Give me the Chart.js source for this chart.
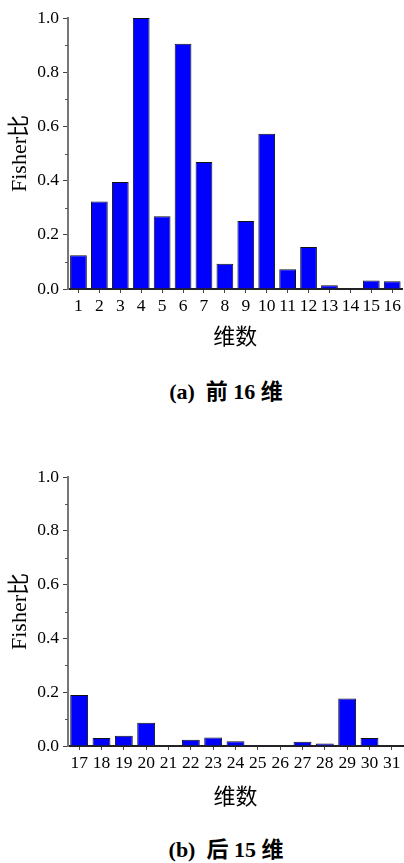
<!DOCTYPE html>
<html>
<head>
<meta charset="utf-8">
<script src="https://cdn.jsdelivr.net/npm/chart.js@4"></script>
<style>
  body { margin: 0; background: #fff; }
  #wrap { position: relative; width: 404px; height: 863px; overflow: hidden; }
  .box { position: absolute; left: 0; width: 404px; height: 360px; }
  .cap {
    position: absolute; white-space: pre; transform: translate(-50%, -50%);
    font: bold 22px "Liberation Serif", "Noto Sans CJK SC", serif; color: #000;
    line-height: 24px;
  }
</style>
</head>
<body>
<div id="wrap">
  <div class="box" style="top:0"><canvas id="grafA"></canvas></div>
  <div class="cap" style="left:226px; top:392px">(a)  前 16 维</div>
  <div class="box" style="top:459px"><canvas id="grafB"></canvas></div>
  <div class="cap" style="left:226px; top:850px">(b)  后 15 维</div>
</div>
<script>
// datos de las dos gráficas
const dimsA = ['1','2','3','4','5','6','7','8','9','10','11','12','13','14','15','16'];
const fisherA = [0.125, 0.323, 0.395, 1.0, 0.268, 0.905, 0.469, 0.093, 0.251, 0.573, 0.073, 0.155, 0.014, 0.002, 0.031, 0.029];

const dimsB = ['17','18','19','20','21','22','23','24','25','26','27','28','29','30','31'];
const fisherB = [0.19, 0.030, 0.038, 0.086, 0, 0.023, 0.032, 0.018, 0.003, 0.002, 0.016, 0.009, 0.177, 0.030, 0.002];

const yTicks = [0, 0.2, 0.4, 0.6, 0.8, 1.0];
const yMinor = [0.1, 0.3, 0.5, 0.7, 0.9];

const serif = '"Liberation Serif", "Noto Sans CJK SC", serif';

// ticks menores del eje y
const minorTicks = {
  id: 'minorTicks',
  afterDraw(chart) {
    const y = chart.scales.y;
    const ctx = chart.ctx;
    ctx.save();
    ctx.strokeStyle = '#555';
    ctx.lineWidth = 1;
    yMinor.forEach(v => {
      const py = Math.round(y.getPixelForValue(v)) + 0.5;
      ctx.beginPath();
      ctx.moveTo(chart.chartArea.left - 3, py);
      ctx.lineTo(chart.chartArea.left, py);
      ctx.stroke();
    });
    ctx.restore();
  }
};

function crearGrafico(id, etiquetas, valores, altoX, padTitulo) {
  new Chart(document.getElementById(id), {
    type: 'bar',
    data: {
      labels: etiquetas,
      datasets: [{
        data: valores,
        backgroundColor: '#0000ff',
        borderColor: '#111',
        borderWidth: 1,
        barPercentage: 0.8,
        categoryPercentage: 1.0
      }]
    },
    options: {
      responsive: true,
      maintainAspectRatio: false,
      animation: false,
      layout: { padding: { top: 18, right: 1, left: 0, bottom: 0 } },
      plugins: {
        legend: { display: false },
        tooltip: { enabled: false }
      },
      scales: {
        x: {
          afterFit: s => { s.height = altoX; },
          grid: { drawOnChartArea: false, drawTicks: true, offset: false, tickLength: 4, color: '#444' },
          border: { display: true, color: '#222', width: 2 },
          ticks: {
            color: '#000', font: { family: serif, size: 17.5 },
            padding: 3, autoSkip: false, maxRotation: 0
          },
          title: {
            display: true, text: '维数', color: '#000',
            font: { family: serif, size: 22 }, padding: { top: 0, bottom: padTitulo }
          }
        },
        y: {
          min: 0, max: 1,
          afterFit: s => { s.width = 68; },
          afterBuildTicks: s => { s.ticks = yTicks.map(v => ({ value: v })); },
          grid: { drawOnChartArea: false, drawTicks: true, tickLength: 5, color: '#444' },
          border: { display: true, color: '#777', width: 2 },
          ticks: {
            color: '#000', font: { family: serif, size: 17.5 }, padding: 4,
            callback: v => Number(v).toFixed(1)
          },
          title: {
            display: true, text: 'Fisher比', color: '#000',
            font: { family: serif, size: 22 }, padding: { top: 7, bottom: 0 }
          }
        }
      }
    },
    plugins: [minorTicks]
  });
}

crearGrafico('grafA', dimsA, fisherA, 71, 9);
crearGrafico('grafB', dimsB, fisherB, 73, 8);
</script>
</body>
</html>
